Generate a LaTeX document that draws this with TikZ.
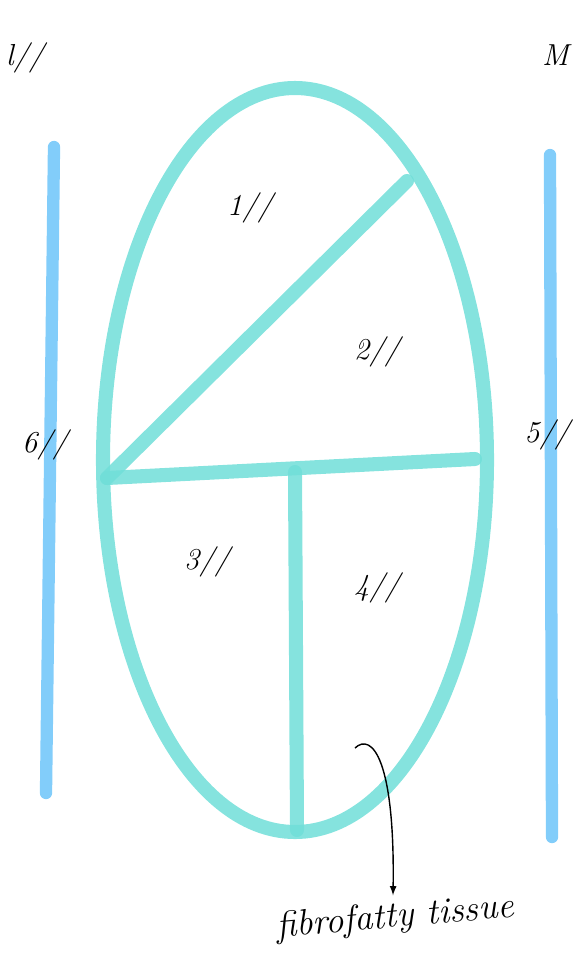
\documentclass[tikz,border=0pt]{standalone}
\usepackage{tikz}
\usetikzlibrary{positioning}
\definecolor{tissue}{RGB}{112,222,216}
\definecolor{fascia}{RGB}{130,205,250}
\begin{document}
\begin{tikzpicture}[x=0.02cm, y=-0.02cm]
\tikzstyle{wall}=[draw=tissue, line width=8pt, opacity=0.85, line cap=round]
\tikzstyle{plane}=[draw=fascia, line width=7pt, line cap=round]
\tikzstyle{tag}=[font=\LARGE\itshape, inner sep=1pt]
\useasboundingbox (0,0) rectangle (574,957);
\coordinate (c) at (295,460);
\coordinate (lt) at (107,478);
\coordinate (rt) at (475,459);
\coordinate (up) at (407,181);
\coordinate (mid) at (295,472);
\coordinate (bot) at (297,830);
\draw[wall] (c) ellipse [x radius=192, y radius=372];
\draw[wall] (lt) -- (up);
\draw[wall] (lt) -- (rt);
\draw[wall] (mid) -- (bot);
\coordinate (l1) at (54,147);
\coordinate (l2) at (46,793);
\coordinate (r1) at (550,155);
\coordinate (r2) at (552,837);
\draw[plane] (l1) -- (l2);
\draw[plane] (r1) -- (r2);
\node[tag] (s1) at (250,208) {1//};
\node[tag] (s2) at (377,352) {2//};
\node[tag] (s3) at (207,562) {3//};
\node[tag] (s4) at (377,588) {4//};
\node[tag, anchor=east] (s5) at (572,435) {5//};
\node[tag] (s6) at (45,445) {6//};
\node[tag] (tl) at (25,58) {l//};
\node[tag, anchor=west] (tr) at (540,55) {M};
\node[font=\huge\itshape, rotate=5] (fat) at (395,918) {fibrofatty tissue};
\coordinate (tail) at (355,748);
\draw[->,>=latex, thick] (tail) .. controls (372,732) and (395,760) .. (fat.north);
\end{tikzpicture}
\end{document}
